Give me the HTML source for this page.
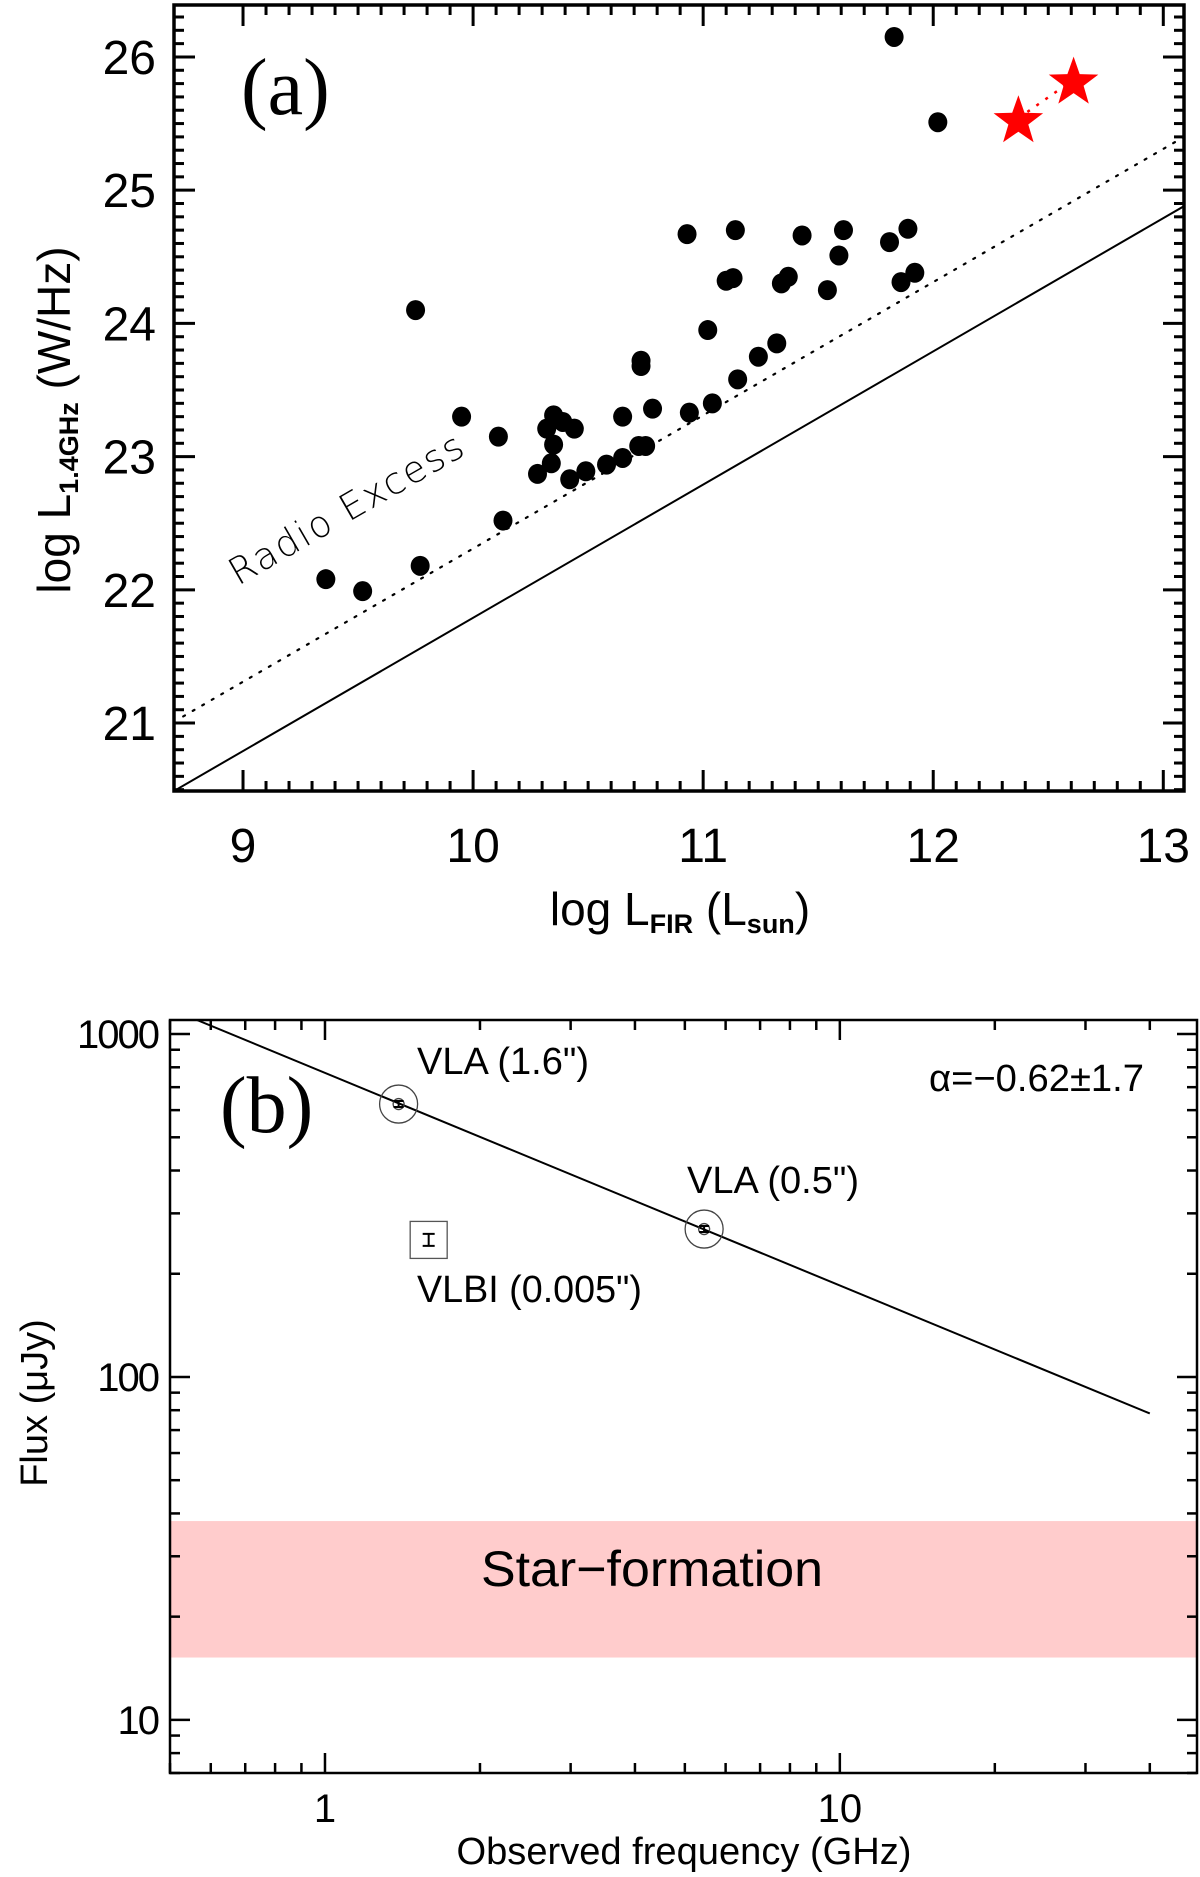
<!DOCTYPE html>
<html><head><meta charset="utf-8"><style>
html,body{margin:0;padding:0;background:#fff;}
svg{display:block;}
.t{font-family:"Liberation Sans","DejaVu Sans",sans-serif;}
.l{font-family:"DejaVu Sans","Liberation Sans",sans-serif;font-weight:200;}
.a{font-family:"Liberation Sans",Arial,sans-serif;}
.s{font-family:"Liberation Serif",serif;}
</style></head><body>
<svg id="fig" width="1200" height="1877" viewBox="0 0 1200 1877" xmlns="http://www.w3.org/2000/svg">
<g id="pa"></g>
<g id="pb"></g>
</svg>
<script>
// Panel (a) data
const firX = [11.83,12.02,10.93,11.14,11.43,11.61,11.81,11.89,11.59,11.10,11.13,11.37,11.34,11.54,11.86,11.92,9.75,11.02,10.73,10.73,11.32,11.24,11.15,9.95,10.11,10.32,10.35,10.39,10.44,10.35,10.34,10.28,10.42,10.49,10.58,10.65,10.65,10.78,10.72,10.75,10.94,11.04,10.13,9.77,9.36,9.52];
const radioY = [26.15,25.51,24.67,24.70,24.66,24.70,24.61,24.71,24.51,24.32,24.34,24.35,24.30,24.25,24.31,24.38,24.10,23.95,23.72,23.68,23.85,23.75,23.58,23.30,23.15,23.21,23.31,23.26,23.21,23.09,22.95,22.87,22.83,22.89,22.94,22.99,23.30,23.36,23.08,23.08,23.33,23.40,22.52,22.18,22.08,21.99];
const starX = [12.37,12.61];
const starY = [25.54,25.83];
const aXTicks = [9,10,11,12,13];
const aYTicks = [21,22,23,24,25,26];
const solidOffset = 11.79;
const dottedOffset = 12.31;
// Panel (b) data
const freq = [1.39,5.45];
const flux = [625,270];
const vlbiFreq = [1.59];
const vlbiFlux = [251];
const fitAlpha = -0.62;
const fitRange = [0.564,40];
const fitNorm = 1099;
const sfBand = [15.2,38];
const bXTicks = [1,10];
const bXTickLabels = ["1","10"];
const bYTicks = [10,100,1000];
const bYTickLabels = ["10","100","1000"];

const NS="http://www.w3.org/2000/svg";
function mk(parent,tag,attrs,text){const e=document.createElementNS(NS,tag);for(const k in attrs)e.setAttribute(k,attrs[k]);if(text!==undefined)e.textContent=text;parent.appendChild(e);return e;}

const A={l:174,r:1184,t:5,b:791,x0:8.70,x1:13.09,y0:20.49,y1:26.39};
const ax=v=>A.l+(v-A.x0)/(A.x1-A.x0)*(A.r-A.l);
const ay=v=>A.b-(v-A.y0)/(A.y1-A.y0)*(A.b-A.t);
const pa=document.getElementById('pa');
const defs=mk(document.getElementById('fig'),'defs',{});
const cpA=mk(defs,'clipPath',{id:'clipA'});mk(cpA,'rect',{x:A.l,y:A.t,width:A.r-A.l,height:A.b-A.t});
const cpB=mk(defs,'clipPath',{id:'clipB'});
const gLines=mk(pa,'g',{'clip-path':'url(#clipA)'});
let e;
e=mk(gLines,'line',{x1:ax(A.x0),y1:ay(A.x0+solidOffset),x2:ax(A.x1),y2:ay(A.x1+solidOffset),stroke:'#000','stroke-width':2});


e=mk(gLines,'line',{x1:ax(8.74),y1:ay(8.74+dottedOffset),x2:ax(A.x1),y2:ay(A.x1+dottedOffset),stroke:'#000','stroke-width':2.2,'stroke-dasharray':'2 9','stroke-linecap':'round'});


for(let i=0;i<firX.length;i++){
  e=mk(pa,'ellipse',{cx:ax(firX[i]),cy:ay(radioY[i]),rx:9.5,ry:10,fill:'#000'});
  
  
}
e=mk(pa,'line',{x1:ax(starX[0]),y1:ay(starY[0]),x2:ax(starX[1]),y2:ay(starY[1]),stroke:'#f00','stroke-width':2.5,'stroke-dasharray':'3 8'});


function starPath(cx,cy,R,r){let d='';for(let k=0;k<10;k++){const ang=-Math.PI/2+k*Math.PI/5;const rr=k%2?r:R;d+=(k?'L':'M')+(cx+rr*Math.cos(ang)).toFixed(1)+' '+(cy+rr*Math.sin(ang)).toFixed(1);}return d+'Z';}
for(let i=0;i<starX.length;i++){
  e=mk(pa,'path',{d:starPath(ax(starX[i]),ay(starY[i])+3,26,10.5),fill:'#f00'});
  
  
}
e=mk(pa,'rect',{x:A.l,y:A.t,width:A.r-A.l,height:A.b-A.t,fill:'none',stroke:'#000','stroke-width':3.5});


const tka=mk(pa,'g',{stroke:'#000','stroke-width':3});
for(let v=9;v<=13.05;v+=0.1){const vv=Math.round(v*10)/10;if(vv<A.x0||vv>A.x1)continue;const maj=Math.abs(vv-Math.round(vv))<1e-6;const L=maj?21:10;const x=ax(vv);
  mk(tka,'line',{x1:x,y1:A.b,x2:x,y2:A.b-L});mk(tka,'line',{x1:x,y1:A.t,x2:x,y2:A.t+L});}
for(let v=20.5;v<=26.4;v+=0.1){const vv=Math.round(v*10)/10;if(vv<A.y0||vv>A.y1)continue;const maj=Math.abs(vv-Math.round(vv))<1e-6;const L=maj?21:10;const y=ay(vv);
  mk(tka,'line',{x1:A.l,y1:y,x2:A.l+L,y2:y});mk(tka,'line',{x1:A.r,y1:y,x2:A.r-L,y2:y});}
for(const v of aXTicks){e=mk(pa,'text',{x:ax(v),y:862,'text-anchor':'middle','font-size':48,class:'t'},String(v));
  
  }
for(const v of aYTicks){e=mk(pa,'text',{x:156,y:ay(v)+17,'text-anchor':'end','font-size':48,class:'t'},String(v));
  
  }
</script>
<script>
(function(){
const pa=document.getElementById('pa');
pa.insertAdjacentHTML('beforeend',
'<text class="s" x="241" y="114" font-size="80">(a)</text>'+
'<text class="l" x="0" y="0" font-size="37" letter-spacing="2" transform="translate(238,586) rotate(-30)">Radio Excess</text>'+
'<text class="t" x="680" y="925" font-size="46" text-anchor="middle">log L<tspan font-size="27" font-weight="bold" dy="8">FIR</tspan><tspan dy="-8"> (L</tspan><tspan font-size="27" font-weight="bold" dy="8">sun</tspan><tspan dy="-8">)</tspan></text>'+
'<text class="t" x="0" y="0" font-size="46" text-anchor="middle" transform="translate(70,420) rotate(-90)">log  L<tspan font-size="27" font-weight="bold" dy="8">1.4GHz</tspan><tspan dy="-8">  (W/Hz)</tspan></text>');
})();
</script>
<script>
const B={l:170,r:1197,t:1020,b:1773,x0:Math.log10(0.5),x1:Math.log10(49.4),y0:Math.log10(7.0),y1:Math.log10(1099)};
const bx=v=>B.l+(Math.log10(v)-B.x0)/(B.x1-B.x0)*(B.r-B.l);
const by=v=>B.b-(Math.log10(v)-B.y0)/(B.y1-B.y0)*(B.b-B.t);
const pb=document.getElementById('pb');
mk(document.getElementById('clipB'),'rect',{x:B.l,y:B.t,width:B.r-B.l,height:B.b-B.t});
let f;
f=mk(pb,'rect',{x:B.l,y:by(sfBand[1]),width:B.r-B.l,height:by(sfBand[0])-by(sfBand[1]),fill:'#ffcccc'});


f=mk(pb,'text',{x:652,y:1586,'text-anchor':'middle','font-size':50,class:'a','textLength':342,'lengthAdjust':'spacingAndGlyphs'},'Star\u2212formation');


const fitEnd=fitNorm*Math.pow(fitRange[1]/fitRange[0],fitAlpha);
f=mk(pb,'line',{x1:bx(fitRange[0]),y1:by(fitNorm),x2:bx(fitRange[1]),y2:by(fitEnd),stroke:'#000','stroke-width':2,'clip-path':'url(#clipB)'});


for(let i=0;i<freq.length;i++){
  const g=mk(pb,'g',{});
  
  
  const x=bx(freq[i]),y=by(flux[i]);
  mk(g,'circle',{cx:x,cy:y,r:19,fill:'none',stroke:'#444','stroke-width':1.3});
  mk(g,'circle',{cx:x,cy:y,r:5.5,fill:'none',stroke:'#444','stroke-width':1.3});
  mk(g,'path',{d:`M${x-5} ${y-3}H${x+5}M${x} ${y-3}V${y+3}M${x-5} ${y+3}H${x+5}`,stroke:'#000','stroke-width':2});
}
for(let i=0;i<vlbiFreq.length;i++){
  const g=mk(pb,'g',{});
  
  
  const x=bx(vlbiFreq[i]),y=by(vlbiFlux[i]);
  mk(g,'rect',{x:x-18.5,y:y-18.5,width:37,height:37,fill:'none',stroke:'#555','stroke-width':1.3});
  mk(g,'path',{d:`M${x-6} ${y-6}H${x+6}M${x} ${y-6}V${y+6}M${x-6} ${y+6}H${x+6}`,stroke:'#000','stroke-width':2});
}
f=mk(pb,'rect',{x:B.l,y:B.t,width:B.r-B.l,height:B.b-B.t,fill:'none',stroke:'#000','stroke-width':2.5});


const tkb=mk(pb,'g',{stroke:'#000','stroke-width':2.5});
for(let d=-1;d<=1;d++){for(let m=1;m<=9;m++){const v=m*Math.pow(10,d);const lv=Math.log10(v);if(lv<B.x0-1e-9||lv>B.x1)continue;const L=m===1?20:10;const x=bx(v);
  mk(tkb,'line',{x1:x,y1:B.b,x2:x,y2:B.b-L});mk(tkb,'line',{x1:x,y1:B.t,x2:x,y2:B.t+L});}}
for(let d=0;d<=3;d++){for(let m=1;m<=9;m++){const v=m*Math.pow(10,d);const lv=Math.log10(v);if(lv<B.y0||lv>B.y1)continue;const L=m===1?20:10;const y=by(v);
  mk(tkb,'line',{x1:B.l,y1:y,x2:B.l+L,y2:y});mk(tkb,'line',{x1:B.r,y1:y,x2:B.r-L,y2:y});}}
for(let i=0;i<bXTicks.length;i++){f=mk(pb,'text',{x:bx(bXTicks[i]),y:1822,'text-anchor':'middle','font-size':40,class:'a'},bXTickLabels[i]);
  
  }
for(let i=0;i<bYTicks.length;i++){f=mk(pb,'text',{x:158,y:by(bYTicks[i])+14,'text-anchor':'end','font-size':40,class:'a','letter-spacing':-2},bYTickLabels[i]);
  
  }
pb.insertAdjacentHTML('beforeend',
'<text class="s" x="220" y="1132" font-size="80">(b)</text>'+
'<text class="a" x="417" y="1074" font-size="38" textLength="172" lengthAdjust="spacingAndGlyphs">VLA (1.6")</text>'+
'<text class="a" x="687" y="1193" font-size="38" textLength="172" lengthAdjust="spacingAndGlyphs">VLA (0.5")</text>'+
'<text class="a" x="417" y="1302" font-size="38" textLength="225" lengthAdjust="spacingAndGlyphs">VLBI (0.005")</text>'+
'<text class="a" x="929" y="1091" font-size="38" textLength="215" lengthAdjust="spacingAndGlyphs">\u03b1=\u22120.62\u00b11.7</text>'+
'<text class="a" x="684" y="1864" font-size="38" text-anchor="middle" textLength="455" lengthAdjust="spacingAndGlyphs">Observed frequency (GHz)</text>'+
'<text class="a" x="0" y="0" font-size="38" text-anchor="middle" transform="translate(47,1403) rotate(-90)">Flux (\u03bcJy)</text>');
</script>
</body></html>
